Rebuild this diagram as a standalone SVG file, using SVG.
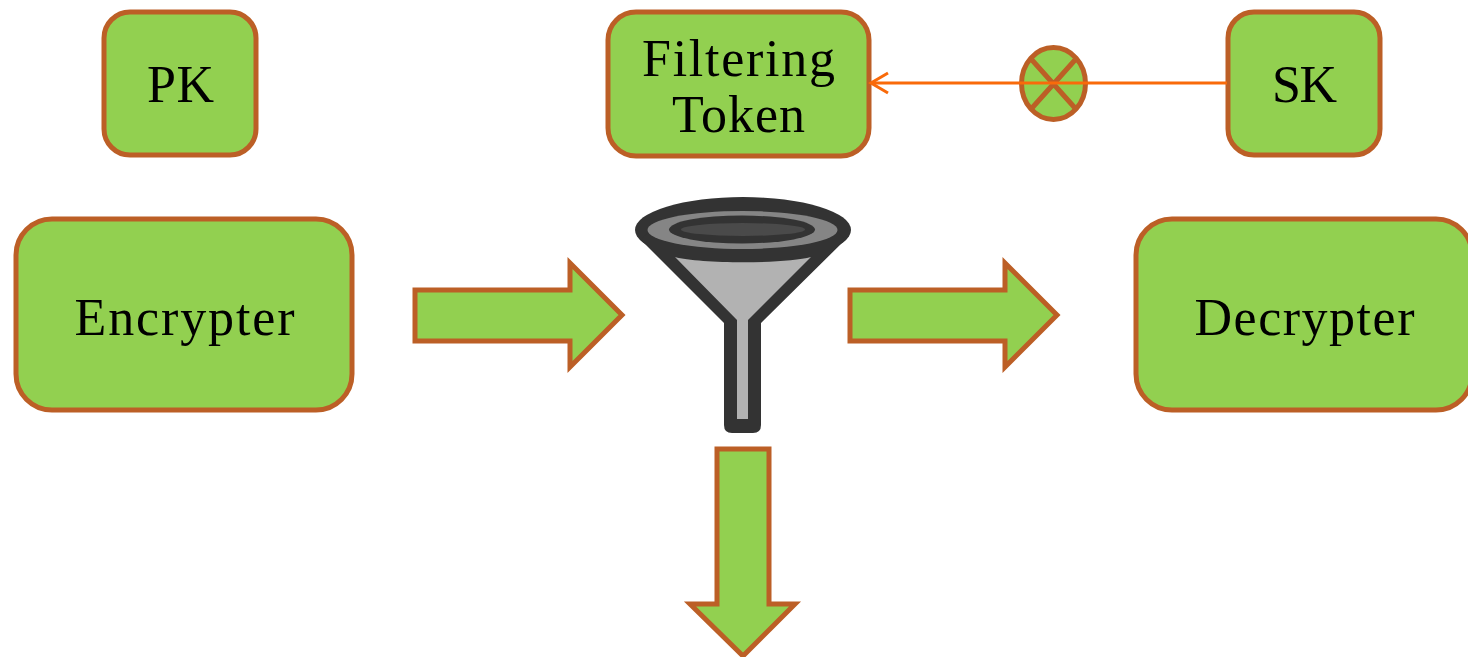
<svg xmlns="http://www.w3.org/2000/svg" width="1468" height="657" viewBox="0 0 1468 657">
<style>
.n{fill:#92d050;stroke:#bc5f26;stroke-width:5}
.t{font-family:"Liberation Serif",serif;font-size:52px;fill:#000;text-anchor:middle;letter-spacing:1px}
</style>
<rect width="1468" height="657" fill="#fff"/>
<g id="pk"><rect class="n" x="104" y="12" width="152" height="143" rx="26"/><text class="t" x="181" y="102" textLength="68" lengthAdjust="spacing">PK</text></g>
<g id="token"><rect class="n" x="608" y="12" width="261" height="144" rx="28"/><text class="t" x="739" y="76" textLength="194" lengthAdjust="spacing">Filtering</text><text class="t" x="739" y="132" textLength="134" lengthAdjust="spacing">Token</text></g>
<g id="sk"><rect class="n" x="1228" y="12" width="152" height="143" rx="26"/><text class="t" x="1305" y="102" textLength="66" lengthAdjust="spacing">SK</text></g>
<g id="encrypter"><rect class="n" x="16" y="219" width="336" height="191" rx="36"/><text class="t" x="185" y="335" textLength="221" lengthAdjust="spacing">Encrypter</text></g>
<g id="decrypter"><rect class="n" x="1136" y="219" width="336" height="191" rx="36"/><text class="t" x="1305" y="335" textLength="221" lengthAdjust="spacing">Decrypter</text></g>
<g id="xor"><ellipse class="n" cx="1053.500" cy="83.500" rx="32" ry="36"/><path d="M1032 60L1075 108M1075 60L1032 108" fill="none" stroke="#bc5f26" stroke-width="5"/></g>
<g id="funnel">
<ellipse cx="743" cy="230" rx="108" ry="33" fill="#333"/>
<path d="M655 225L641 240L724 323V425Q724 433 732 433H753Q761 433 761 425V323L845 240L831 225Z" fill="#333"/>
<path d="M675 257C700 264 786 264 811 257L748 320V419H737V320Z" fill="#b2b2b2"/>
<ellipse cx="742.500" cy="230" rx="95" ry="19" fill="#858585"/>
<ellipse cx="742" cy="229.500" rx="73" ry="14" fill="#333"/>
<ellipse cx="743" cy="229.500" rx="62" ry="6.500" fill="#4a4a4a"/>
</g>
<g id="connectors">
<path d="M1227 83H872" fill="none" stroke="#f96a0a" stroke-width="3"/>
<path d="M888 73L871 83L888 93" fill="none" stroke="#f96a0a" stroke-width="3"/>
<path class="n" d="M415 290H570V263L622 315L570 367V341H415Z"/>
<path class="n" d="M850 290H1005V263L1057 315L1005 367V341H850Z"/>
<path class="n" d="M717 449H769V604H795L743 656L690 604H717Z"/>
</g>
</svg>
